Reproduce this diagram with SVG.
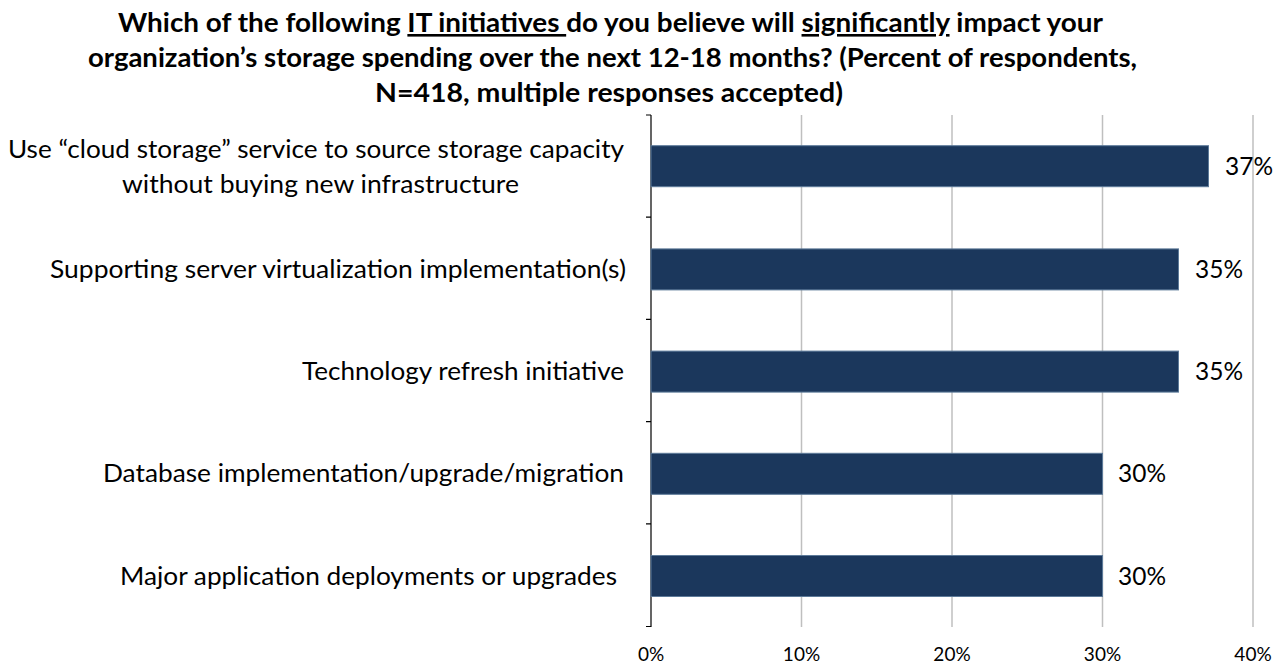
<svg xmlns="http://www.w3.org/2000/svg" width="1286" height="664" viewBox="0 0 1286 664">
<style>
.title{font-family:Lato,"Open Sans",sans-serif;font-weight:bold;font-size:26px;fill:#000;text-anchor:middle}
.cat{font-family:Lato,"Open Sans",sans-serif;font-size:25px;fill:#000;text-anchor:end}
.val{font-family:Lato,"Open Sans",sans-serif;font-size:25px;fill:#000}
.tick{font-family:Lato,"Open Sans",sans-serif;font-size:19px;fill:#000;text-anchor:middle}
.grid{stroke:#bfbfbf;stroke-width:1.5}
.bar{fill:#1b375c;stroke:#5d7a99;stroke-width:1}
.axis{stroke:#000;stroke-width:1.2;fill:none}
</style>
<rect width="1286" height="664" fill="#fff"/>
<g id="title">
<text class="title" x="610.5" y="32" textLength="985" lengthAdjust="spacingAndGlyphs">Which of the following <tspan text-decoration="underline">IT initiatives </tspan>do you believe will <tspan text-decoration="underline">significantly</tspan> impact your</text>
<text class="title" x="612.5" y="67" textLength="1049" lengthAdjust="spacingAndGlyphs">organization’s storage spending over the next 12-18 months? (Percent of respondents,</text>
<text class="title" x="609" y="102" textLength="468" lengthAdjust="spacingAndGlyphs">N=418, multiple responses accepted)</text>
</g>
<g id="gridlines">
<line class="grid" x1="801.5" y1="115" x2="801.5" y2="627"/>
<line class="grid" x1="952" y1="115" x2="952" y2="627"/>
<line class="grid" x1="1102.5" y1="115" x2="1102.5" y2="627"/>
<line class="grid" x1="1253" y1="115" x2="1253" y2="627"/>
</g>
<g id="connectors">
<path class="axis" d="M651 115 V627 M646 115 H651 M646 217.2 H651 M646 319.4 H651 M646 421.6 H651 M646 523.8 H651 M646 626.5 H651"/>
</g>
<g id="bar1">
<rect class="bar" x="651" y="145.7" width="557.5" height="41"/>
<text class="val" x="1225" y="175" textLength="48" lengthAdjust="spacingAndGlyphs">37%</text>
<text class="cat" x="624" y="158" textLength="616" lengthAdjust="spacingAndGlyphs">Use “cloud storage” service to source storage capacity</text>
<text class="cat" x="519" y="193" textLength="397" lengthAdjust="spacingAndGlyphs">without buying new infrastructure</text>
</g>
<g id="bar2">
<rect class="bar" x="651" y="248.9" width="527.5" height="41"/>
<text class="val" x="1195" y="278" textLength="48" lengthAdjust="spacingAndGlyphs">35%</text>
<text class="cat" x="626" y="278" textLength="576" lengthAdjust="spacingAndGlyphs">Supporting server virtualization implementation(s)</text>
</g>
<g id="bar3">
<rect class="bar" x="651" y="351.1" width="527.5" height="41"/>
<text class="val" x="1195" y="380" textLength="48" lengthAdjust="spacingAndGlyphs">35%</text>
<text class="cat" x="624" y="380" textLength="322" lengthAdjust="spacingAndGlyphs">Technology refresh initiative</text>
</g>
<g id="bar4">
<rect class="bar" x="651" y="453.3" width="451.5" height="41"/>
<text class="val" x="1118" y="482" textLength="48" lengthAdjust="spacingAndGlyphs">30%</text>
<text class="cat" x="624" y="482" textLength="521" lengthAdjust="spacingAndGlyphs">Database implementation/upgrade/migration</text>
</g>
<g id="bar5">
<rect class="bar" x="651" y="555.5" width="451.5" height="41"/>
<text class="val" x="1118" y="585" textLength="48" lengthAdjust="spacingAndGlyphs">30%</text>
<text class="cat" x="617" y="585" textLength="497" lengthAdjust="spacingAndGlyphs">Major application deployments or upgrades</text>
</g>
<g id="xaxis-labels">
<text class="tick" x="651" y="661">0%</text>
<text class="tick" x="801.5" y="661">10%</text>
<text class="tick" x="952" y="661">20%</text>
<text class="tick" x="1102.5" y="661">30%</text>
<text class="tick" x="1253" y="661">40%</text>
</g>
</svg>
